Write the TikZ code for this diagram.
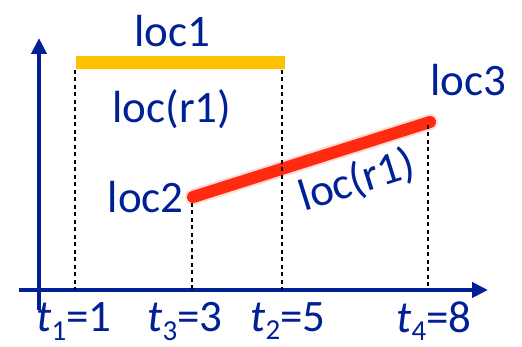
\documentclass[tikz,border=0pt]{standalone}
\usepackage{fontspec}
\setmainfont{Carlito}
\usetikzlibrary{arrows.meta,positioning}
\definecolor{axisblue}{HTML}{002096}
\definecolor{barorange}{HTML}{FFC000}
\definecolor{trackred}{HTML}{FF2A10}
\newcommand{\tlab}[2]{\textit{t}\raisebox{-0.18em}{\fontsize{29}{29}\selectfont #1}=#2}

\begin{document}
\begin{tikzpicture}[
    x=1pt, y=1pt,
    axis/.style={axisblue, line width=4.5pt, -{Triangle[length=16pt, width=15pt]}},
    guide/.style={black, line width=2.6pt, dash pattern=on 4pt off 3.5pt},
    lbl/.style={text=axisblue, font=\fontsize{45}{48}\selectfont, inner sep=0pt},
    tick/.style={text=axisblue, font=\fontsize{45}{48}\selectfont, inner sep=0pt}
]
\useasboundingbox (0,0) rectangle (522,347);

% axes
\coordinate (origin) at (39,57);
\coordinate (ybot) at (39,37);
\coordinate (ytop) at (39,309);
\coordinate (xleft) at (19,57);
\coordinate (xright) at (488,57);
\draw[axis] (ybot) -- (ytop);
\draw[axis] (xleft) -- (xright);

% loc1 stay
\coordinate (a) at (76,284.5);
\coordinate (b) at (285,284.5);
\draw[barorange, line width=13pt] (a) -- (b);

% move from loc2 to loc3
\coordinate (c) at (193,150);
\coordinate (d) at (430,225);
\draw[trackred!35, line width=16pt, line cap=round, opacity=0.5] (c) -- (d);
\draw[trackred, line width=12pt, line cap=round] (c) -- (d);

% time markers
\coordinate (t1) at (75,57);
\coordinate (t3) at (192,57);
\coordinate (t2) at (282,57);
\coordinate (t4) at (428,57);
\coordinate (a0) at (75,277);
\coordinate (c0) at (192,144);
\coordinate (b0) at (282,277);
\coordinate (d0) at (428,222);
\draw[guide] (a0) -- (t1);
\draw[guide] (c0) -- (t3);
\draw[guide] (b0) -- (t2);
\draw[guide] (d0) -- (t4);

% labels
\node[lbl] (loc1) at (172,316) {loc1};
\node[lbl] (r1a) at (172,238) {loc(r1)};
\node[lbl, anchor=east] (loc2) at (184,150) {loc2};
\node[lbl] (loc3) at (468,267) {loc3};
\node[lbl, rotate=17.5] (r1b) at (357,166) {loc(r1)};

\node[tick] (lt1) at (74,25.5) {\tlab{1}{1}};
\node[tick] (lt3) at (185,25.5) {\tlab{3}{3}};
\node[tick] (lt2) at (288,25.5) {\tlab{2}{5}};
\node[tick] (lt4) at (434,25.5) {\tlab{4}{8}};
\end{tikzpicture}
\end{document}
